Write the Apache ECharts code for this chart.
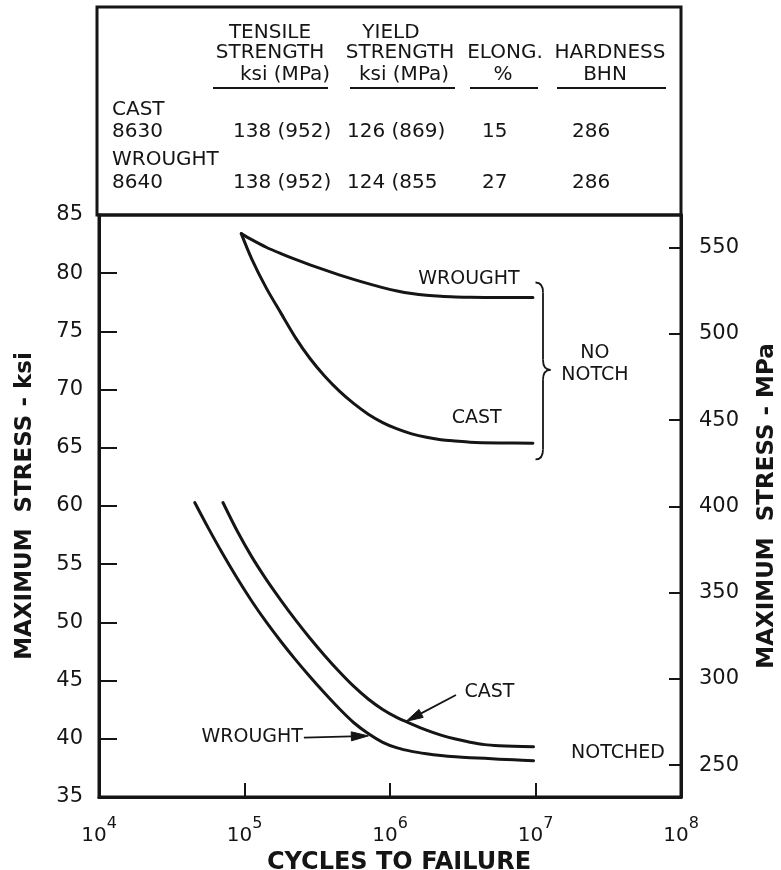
<!DOCTYPE html>
<html>
<head>
<meta charset="utf-8">
<script src="https://cdn.jsdelivr.net/npm/echarts@6/dist/echarts.min.js"></script>
<style>
  html, body { margin: 0; padding: 0; background: #fff; }
  #chart { width: 781px; height: 870px; }
</style>
</head>
<body>
<div id="chart"></div>
<script>
// Fatigue (S-N) curves: cast 8630 vs wrought 8640 steel, notched and un-notched.

// ---- data -------------------------------------------------------------
// Un-notched specimens: cycles to failure and maximum stress (ksi)
const wroughtNoNotchCycles = [9.5e4, 1.12e5, 1.41e5, 1.78e5, 2.24e5, 2.82e5, 3.55e5, 4.47e5, 5.62e5, 7.08e5,
                              8.91e5, 1.12e6, 1.41e6, 1.78e6, 2.24e6, 2.82e6, 3.55e6, 5.62e6, 9.6e6];
const wroughtNoNotchKsi    = [83.4, 82.88, 82.23, 81.68, 81.18, 80.72, 80.28, 79.86, 79.47, 79.10,
                              78.76, 78.47, 78.25, 78.10, 78.01, 77.96, 77.93, 77.92, 77.92];

const castNoNotchCycles = [9.5e4, 1.12e5, 1.41e5, 1.78e5, 2.24e5, 2.82e5, 3.55e5, 4.47e5, 5.62e5, 7.08e5,
                           8.91e5, 1.12e6, 1.41e6, 1.78e6, 2.24e6, 2.82e6, 3.55e6, 5.62e6, 9.6e6];
const castNoNotchKsi    = [83.4, 81.24, 78.74, 76.57, 74.47, 72.67, 71.17, 69.89, 68.81, 67.89,
                           67.17, 66.62, 66.2, 65.9, 65.7, 65.58, 65.48, 65.42, 65.4];

// Notched specimens
const wroughtNotchedCycles = [4.55e4, 5.62e4, 7.08e4, 8.91e4, 1.12e5, 1.41e5, 1.78e5, 2.24e5, 2.82e5, 3.55e5,
                              4.47e5, 5.62e5, 7.08e5, 8.91e5, 1.12e6, 1.41e6, 1.78e6, 2.24e6, 2.82e6, 3.55e6,
                              4.47e6, 5.62e6, 7.08e6, 9.7e6];
const wroughtNotchedKsi    = [60.3, 58.14, 55.89, 53.79, 51.84, 50.04, 48.36, 46.80, 45.33, 43.93,
                              42.60, 41.40, 40.45, 39.70, 39.22, 38.92, 38.72, 38.57, 38.46, 38.38,
                              38.32, 38.25, 38.19, 38.12];

const castNotchedCycles = [7.11e4, 8.91e4, 1.12e5, 1.41e5, 1.78e5, 2.24e5, 2.82e5, 3.55e5, 4.47e5, 5.62e5,
                           7.08e5, 8.91e5, 1.12e6, 1.41e6, 1.78e6, 2.24e6, 2.82e6, 3.55e6, 4.47e6, 5.62e6,
                           7.08e6, 9.7e6];
const castNotchedKsi    = [60.3, 57.85, 55.65, 53.70, 51.90, 50.22, 48.64, 47.16, 45.78, 44.52,
                           43.42, 42.52, 41.82, 41.27, 40.75, 40.32, 39.98, 39.71, 39.50, 39.40,
                           39.35, 39.32];

// Axis tick values
const ksiTicks = [35, 40, 45, 50, 55, 60, 65, 70, 75, 80, 85];
const mpaTicks = [250, 300, 350, 400, 450, 500, 550];

// Mechanical properties table
const tableHeaders = [
  ['TENSILE', 'STRENGTH', 'ksi (MPa)'],
  ['YIELD', 'STRENGTH', 'ksi (MPa)'],
  ['ELONG.', '%'],
  ['HARDNESS', 'BHN']
];
const materialNames   = [['CAST', '8630'], ['WROUGHT', '8640']];
const tensileStrength = ['138 (952)', '138 (952)'];
const yieldStrength   = ['126 (869)', '124 (855'];
const elongation      = ['15', '27'];
const hardness        = ['286', '286'];

// ---- styling ----------------------------------------------------------
const INK = '#151515';
const FONT = '"DejaVu Sans", "Liberation Sans", sans-serif';

function pairs(xs, ys) { return xs.map((x, i) => [x, ys[i]]); }

function curve(name, xs, ys) {
  return {
    name, type: 'line', xAxisIndex: 0, yAxisIndex: 0,
    data: pairs(xs, ys),
    showSymbol: false, symbol: 'none',
    smooth: 0.3,
    lineStyle: { color: INK, width: 3, cap: 'round', join: 'round' },
    silent: true, z: 3
  };
}

const chart = echarts.init(document.getElementById('chart'));

chart.setOption({
  animation: false,
  backgroundColor: '#ffffff',
  grid: {
    left: 99, right: 100, top: 215, bottom: 73,
    containLabel: false, outerBoundsMode: 'none',
    show: true, borderColor: INK, borderWidth: 3, backgroundColor: 'transparent'
  },
  xAxis: {
    type: 'log', logBase: 10, min: 1e4, max: 1e8,
    axisLine: { show: true, lineStyle: { color: INK, width: 3 } },
    axisTick: { show: true, inside: true, length: 14, lineStyle: { color: INK, width: 2 } },
    minorTick: { show: false },
    splitLine: { show: false },
    axisLabel: {
      margin: 19,
      formatter: v => '{b|10}{e|' + Math.round(Math.log10(v)) + '}',
      rich: {
        b: { fontFamily: FONT, fontSize: 20, color: INK, lineHeight: 30, verticalAlign: 'bottom' },
        e: { fontFamily: FONT, fontSize: 16, color: INK, lineHeight: 16, verticalAlign: 'top' }
      }
    },
    name: 'CYCLES TO FAILURE',
    nameLocation: 'middle',
    nameGap: 49,
    nameTextStyle: { fontFamily: FONT, fontSize: 24, fontWeight: 'bold', color: INK, padding: [0, 0, 0, 18] }
  },
  yAxis: [
    {
      type: 'value', min: ksiTicks[0], max: ksiTicks[ksiTicks.length - 1], interval: 5,
      axisLine: { show: true, lineStyle: { color: INK, width: 3 } },
      axisTick: { show: true, inside: true, length: 18, lineStyle: { color: INK, width: 2 } },
      splitLine: { show: false },
      axisLabel: { margin: 16, fontFamily: FONT, fontSize: 21, color: INK },
      name: 'MAXIMUM  STRESS - ksi',
      nameLocation: 'middle',
      nameGap: 62,
      nameTextStyle: { fontFamily: FONT, fontSize: 23, fontWeight: 'bold', color: INK }
    },
    {
      type: 'value', position: 'right', min: 231.5, max: 569,
      axisLine: { show: true, lineStyle: { color: INK, width: 3 } },
      axisTick: { show: true, inside: true, length: 12, customValues: mpaTicks, lineStyle: { color: INK, width: 2 } },
      splitLine: { show: false },
      axisLabel: { margin: 18, fontFamily: FONT, fontSize: 21, color: INK, customValues: mpaTicks },
      name: 'MAXIMUM  STRESS - MPa',
      nameLocation: 'middle',
      nameGap: 75,
      nameRotate: 90,
      nameTextStyle: { fontFamily: FONT, fontSize: 23, fontWeight: 'bold', color: INK }
    }
  ],
  series: [
    curve('Wrought, no notch', wroughtNoNotchCycles, wroughtNoNotchKsi),
    curve('Cast, no notch', castNoNotchCycles, castNoNotchKsi),
    curve('Wrought, notched', wroughtNotchedCycles, wroughtNotchedKsi),
    curve('Cast, notched', castNotchedCycles, castNotchedKsi)
  ]
});

// ---- property table above the plot -----------------------------------
const tableEls = [];
function txt(text, x, y, opts) {
  tableEls.push({
    type: 'text', x, y, silent: true,
    style: Object.assign({
      text, fill: INK, fontFamily: FONT, fontSize: 20,
      align: 'center', verticalAlign: 'middle'
    }, opts || {})
  });
}
function hline(x1, x2, y, w) {
  tableEls.push({
    type: 'line', silent: true,
    shape: { x1, y1: y, x2, y2: y },
    style: { stroke: INK, lineWidth: w }
  });
}

tableEls.push({
  type: 'rect', silent: true,
  shape: { x: 97, y: 7, width: 584, height: 208 },
  style: { fill: 'none', stroke: INK, lineWidth: 3 }
});

// header lines are bottom-aligned to the third header row
const headerRowY = [33, 53, 75];
const headerCenters = [[270, 270, 285], [391, 400, 404], [505, 503], [610, 605]];
const underlineSpans = [[213, 328], [350, 455], [470, 538], [557, 666]];
tableHeaders.forEach((lines, c) => {
  const offset = headerRowY.length - lines.length;
  lines.forEach((line, r) => txt(line, headerCenters[c][r], headerRowY[r + offset]));
  hline(underlineSpans[c][0], underlineSpans[c][1], 88, 2);
});

const rowNameY = [[110, 132], [160, 183]];
const valueY = [132, 183];
materialNames.forEach((name, i) => {
  txt(name[0], 112, rowNameY[i][0], { align: 'left' });
  txt(name[1], 112, rowNameY[i][1], { align: 'left' });
  txt(tensileStrength[i], 233, valueY[i], { align: 'left' });
  txt(yieldStrength[i], 347, valueY[i], { align: 'left' });
  txt(elongation[i], 482, valueY[i], { align: 'left' });
  txt(hardness[i], 572, valueY[i], { align: 'left' });
});

// ---- curve annotations, anchored in data space -----------------------
const px = (cycles, ksi) => chart.convertToPixel({ xAxisIndex: 0, yAxisIndex: 0 }, [cycles, ksi]);
const annEls = [];
function note(text, cycles, ksi, opts) {
  const p = px(cycles, ksi);
  annEls.push({
    type: 'text', x: p[0], y: p[1], silent: true,
    style: Object.assign({
      text, fill: INK, fontFamily: FONT, fontSize: 19,
      align: 'center', verticalAlign: 'middle'
    }, opts || {})
  });
}
function seg(x1, y1, x2, y2) {
  annEls.push({
    type: 'line', silent: true,
    shape: { x1, y1, x2, y2 },
    style: { stroke: INK, lineWidth: 1.8 }
  });
}
function quad(x1, y1, cx, cy, x2, y2) {
  annEls.push({
    type: 'bezierCurve', silent: true,
    shape: { x1, y1, cpx1: cx, cpy1: cy, x2, y2 },
    style: { stroke: INK, lineWidth: 1.8, fill: 'none' }
  });
}
function arrow(fromC, fromK, toC, toK) {
  const a = px(fromC, fromK), b = px(toC, toK);
  const dx = b[0] - a[0], dy = b[1] - a[1];
  const len = Math.hypot(dx, dy), ux = dx / len, uy = dy / len;
  const head = 17, half = 4.5;
  const bx = b[0] - ux * head, by = b[1] - uy * head;
  seg(a[0], a[1], bx, by);
  annEls.push({
    type: 'polygon', silent: true,
    shape: { points: [[b[0], b[1]], [bx - uy * half, by + ux * half], [bx + uy * half, by - ux * half]] },
    style: { fill: INK, stroke: INK, lineWidth: 1 }
  });
}

note('WROUGHT', 3.49e6, 79.5);
note('CAST', 3.94e6, 67.56);
note('NO\nNOTCH', 2.56e7, 72.2, { lineHeight: 22 });
note('NOTCHED', 3.69e7, 38.78);
note('CAST', 4.83e6, 44.02);
note('WROUGHT', 1.13e5, 40.15);
arrow(2.84e6, 43.76, 1.29e6, 41.5);
arrow(2.56e5, 40.1, 7.1e5, 40.25);

// curly brace grouping the two un-notched curves
(function () {
  const top = px(1.0e7, 79.2), bot = px(1.0e7, 64.0), mid = px(1.0e7, 71.7);
  const x = top[0], w = 15, xm = x + w * 0.5, xt = x + w;
  const yT = top[1], yB = bot[1], yM = mid[1];
  quad(x, yT, xm, yT, xm, yT + 10);
  seg(xm, yT + 10, xm, yM - 10);
  quad(xm, yM - 10, xm, yM, xt, yM);
  quad(xt, yM, xm, yM, xm, yM + 10);
  seg(xm, yM + 10, xm, yB - 10);
  quad(xm, yB - 10, xm, yB, x, yB);
})();

chart.setOption({ graphic: tableEls.concat(annEls) });
</script>
</body>
</html>
